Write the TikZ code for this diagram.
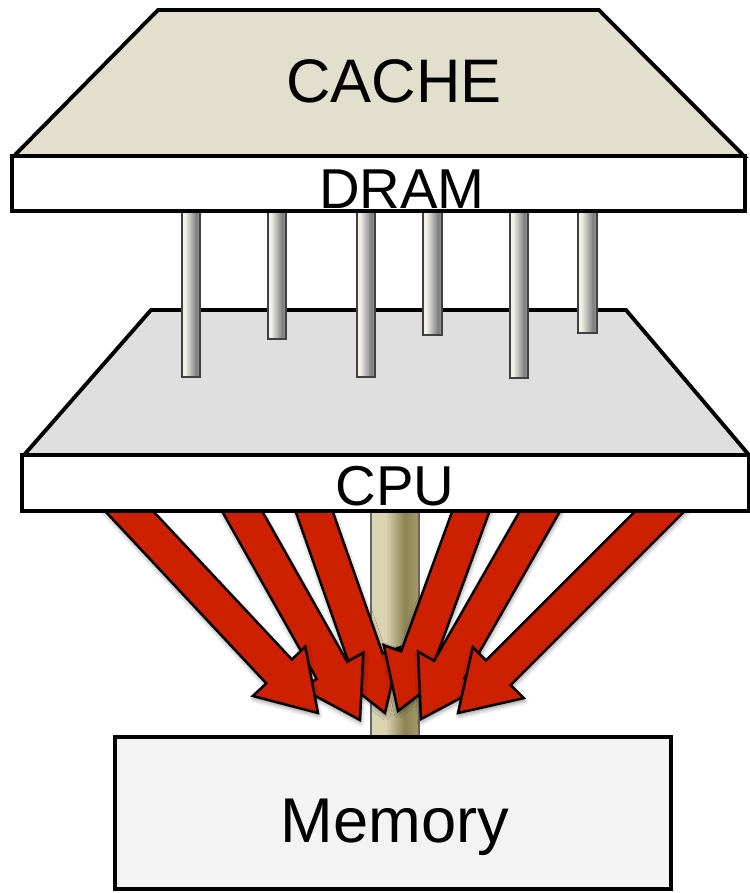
\documentclass[tikz,border=0pt]{standalone}
\usepackage{fontspec}
\setmainfont{Liberation Sans}
\usetikzlibrary{calc,shadows.blur}

\definecolor{cachefill}{HTML}{E2DFCC}
\definecolor{cpufill}{HTML}{DFDFDF}
\definecolor{memfill}{HTML}{F3F3F3}
\definecolor{arrowred}{HTML}{CC2000}
\definecolor{pinlight}{HTML}{F4F2E6}
\definecolor{pinmid}{HTML}{B4B4B2}
\definecolor{pindark}{HTML}{7C7C7C}
\definecolor{pinedge}{HTML}{A2A2A2}
\definecolor{buslight}{HTML}{DBD4B2}
\definecolor{busdark}{HTML}{8C8354}
\definecolor{busedge}{HTML}{A69A68}

\pgfdeclarehorizontalshading{pinshade}{100bp}{color(0bp)=(pinlight); color(25bp)=(pinlight); color(33bp)=(pinlight); color(50bp)=(pinmid); color(65bp)=(pindark); color(75bp)=(pinedge); color(100bp)=(pinedge)}
\pgfdeclarehorizontalshading{busshade}{100bp}{color(0bp)=(buslight); color(25bp)=(buslight); color(40bp)=(buslight); color(60bp)=(busdark); color(75bp)=(busedge); color(100bp)=(busedge)}

\tikzset{
  board/.style={draw=black, line width=2.2pt, line join=miter},
  pin/.style={draw=black!75, line width=0.6pt, shading=pinshade},
  bus/.style={draw=black!60, line width=0.6pt, shading=busshade},
  redarrow/.style={fill=arrowred, draw=black, line width=1.4pt, line join=miter,
    blur shadow={shadow xshift=0.4pt, shadow yshift=-1.5pt, shadow blur radius=2.5pt, shadow opacity=45}},
  lbl/.style={anchor=base, inner sep=0pt},
}

% block arrow from #1 to the tip #2
\newcommand{\bigarrow}[2]{%
  \coordinate (ba-s) at ($(#1)!-0.6cm!(#2)$);
  \coordinate (ba-b) at ($(#2)!1.14cm!(#1)$);
  \path[redarrow] ($(ba-s)!0.35cm!90:(#2)$) -- ($(ba-b)!0.35cm!90:(#2)$)
    -- ($(ba-b)!0.72cm!90:(#2)$) -- (#2) -- ($(ba-b)!0.72cm!-90:(#2)$)
    -- ($(ba-b)!0.35cm!-90:(#2)$) -- ($(ba-s)!0.35cm!-90:(#2)$) -- cycle;
}

\begin{document}
\begin{tikzpicture}[x=0.02cm, y=-0.02cm]
\useasboundingbox (0,0) rectangle (750,893);

\draw[board, fill=cachefill] (158,10) -- (599,10) -- (744,156) -- (14,156) -- cycle;
\draw[board, fill=cpufill] (151,310) -- (626,310) -- (749,455) -- (24,455) -- cycle;

\draw[pin] (182,205) rectangle (200,377);
\draw[pin] (268,205) rectangle (286,339);
\draw[pin] (357,205) rectangle (375,377);
\draw[pin] (423,205) rectangle (442,335);
\draw[pin] (510,205) rectangle (528,378);
\draw[pin] (578,205) rectangle (597,333);

\draw[board, fill=white] (12,156) rectangle (745,211);

\draw[bus] (371,505) rectangle (419,737);

\coordinate (c1) at (129,511);
\coordinate (c2) at (242,511);
\coordinate (c3) at (314,511);
\coordinate (c4) at (471,511);
\coordinate (c5) at (540,511);
\coordinate (c6) at (660,511);
\coordinate (m1) at (318,713);
\coordinate (m2) at (360,720);
\coordinate (m3) at (385,713);
\coordinate (m4) at (398,711);
\coordinate (m5) at (421,719);
\coordinate (m6) at (458,713);

\bigarrow{c3}{m3}
\bigarrow{c4}{m4}
\bigarrow{c2}{m2}
\bigarrow{c5}{m5}
\bigarrow{c1}{m1}
\bigarrow{c6}{m6}

\draw[board, fill=white] (22,455) rectangle (749,511);
\draw[board, fill=memfill] (115,737) rectangle (671,889);

\node[lbl, font=\fontsize{35}{40}\selectfont] (cache) at (394,102) {CACHE};
\node[lbl, font=\fontsize{32}{36}\selectfont] (dram) at (402,208) {DRAM};
\node[lbl, font=\fontsize{32}{36}\selectfont] (cpu) at (395,505) {CPU};
\node[lbl, font=\fontsize{36}{40}\selectfont] (memory) at (395,842) {Memory};
\end{tikzpicture}
\end{document}
